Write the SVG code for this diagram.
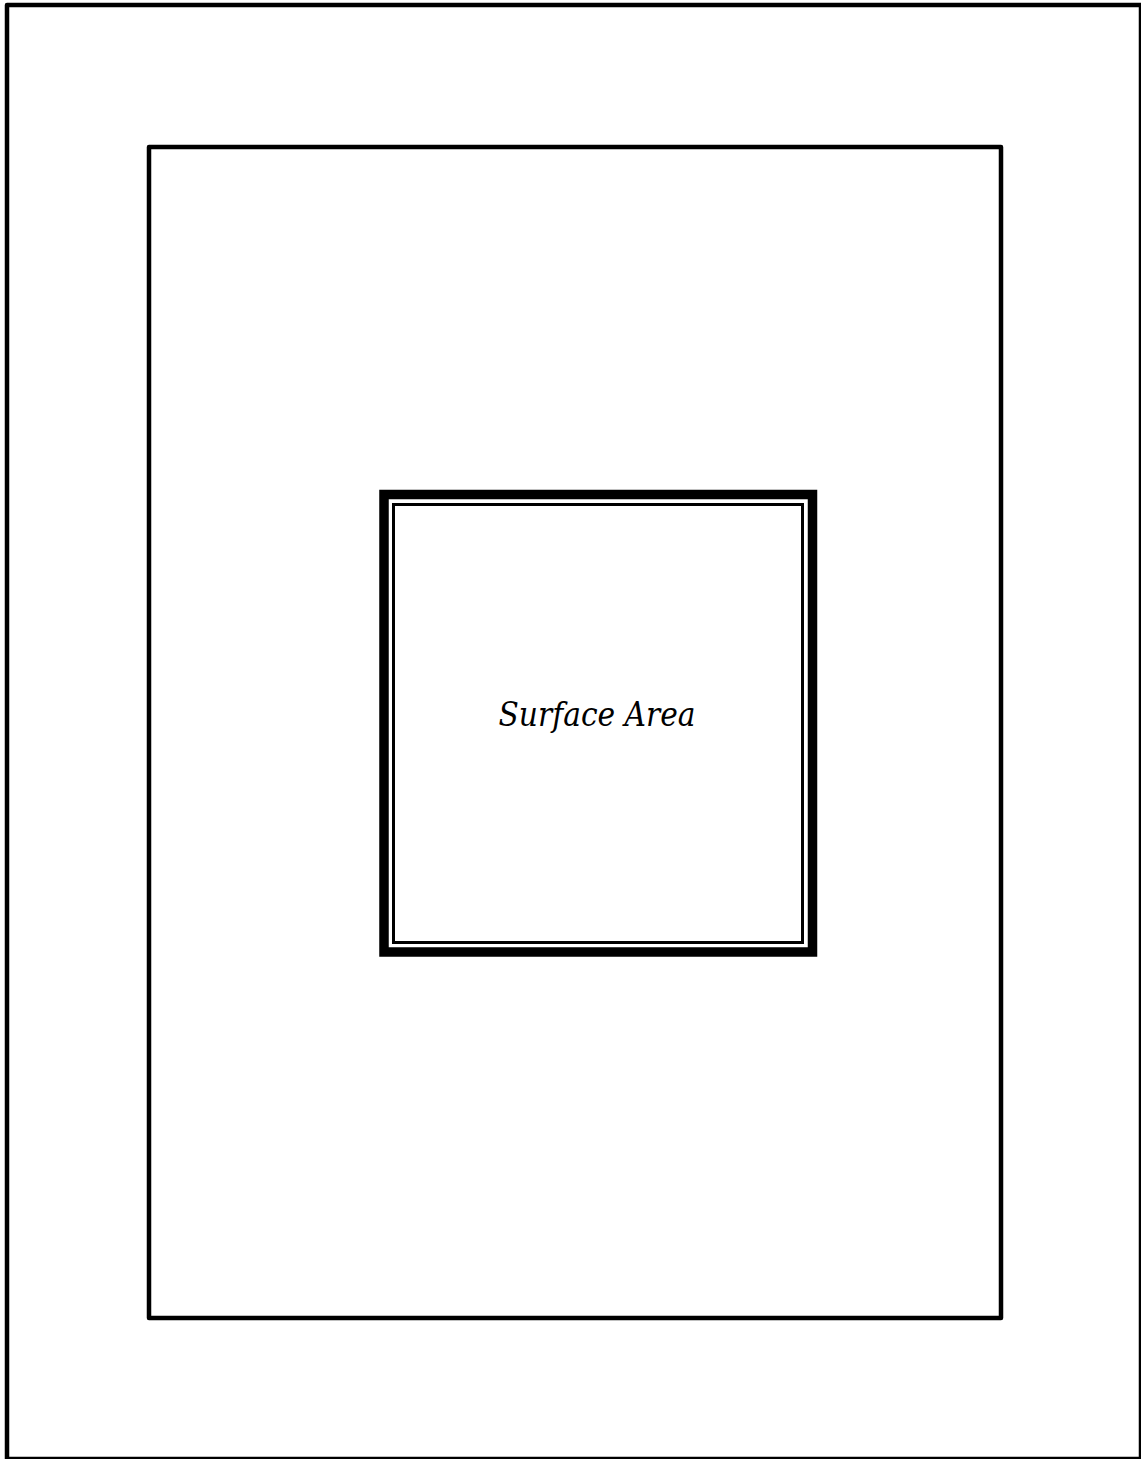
<svg xmlns="http://www.w3.org/2000/svg" width="1141" height="1459" viewBox="0 0 1141 1459">
<style>
.frame{fill:none;stroke:#000;stroke-linejoin:round}
.lbl{font-family:"DejaVu Serif","Liberation Serif",serif;font-style:italic;font-size:33px;fill:#000}
</style>
<rect width="1141" height="1459" fill="#fff"/>
<g id="outer"><rect class="frame" x="7" y="5" width="1134" height="1454" stroke-width="4.5"/></g>
<g id="middle"><rect class="frame" x="149" y="147" width="852" height="1171" stroke-width="4.5"/></g>
<g id="surface-area">
<rect x="384" y="494.5" width="428.5" height="457.5" fill="none" stroke="#000" stroke-width="9.5"/>
<rect x="393.5" y="504.5" width="409" height="438" fill="none" stroke="#000" stroke-width="3"/>
<text class="lbl" x="597" y="726" text-anchor="middle" textLength="197" lengthAdjust="spacingAndGlyphs">Surface Area</text>
</g>
<g id="connectors"/>
</svg>
